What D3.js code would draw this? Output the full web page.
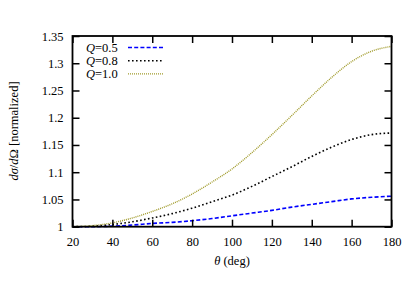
<!DOCTYPE html>
<html><head><meta charset="utf-8">
<script src="https://cdn.jsdelivr.net/npm/d3@7"></script>
<style>
html,body{margin:0;padding:0;background:#fff;}
</style></head>
<body>
<svg id="c" width="415" height="290" font-family="'Liberation Serif', 'Times New Roman', 'DejaVu Serif', serif" font-size="12"></svg>
<script>
const theta = [20,30,40,50,60,70,80,90,100,110,120,130,140,150,160,170,180];
const q05 = [1.000,1.000,1.001,1.003,1.006,1.008,1.011,1.015,1.020,1.025,1.030,1.036,1.041,1.046,1.051,1.054,1.056];
const q08 = [1.000,1.001,1.004,1.009,1.016,1.024,1.034,1.046,1.058,1.074,1.092,1.110,1.129,1.146,1.160,1.169,1.172];
const q10 = [1.000,1.002,1.007,1.016,1.028,1.042,1.060,1.082,1.106,1.136,1.169,1.204,1.240,1.274,1.303,1.322,1.331];
const seriesLabels = ["0.5","0.8","1.0"];
const xTicks = [20,40,60,80,100,120,140,160,180];
const yTicks = [1,1.05,1.1,1.15,1.2,1.25,1.3,1.35];

const FONT = "'Liberation Serif', 'Times New Roman', 'DejaVu Serif', serif";
const svg = d3.select("#c");
const L=72.5, R=391.5, T=36, B=226.7;
const x = d3.scaleLinear().domain([20,180]).range([L,R]);
const y = d3.scaleLinear().domain([1,1.35]).range([B,T]);
const fmt = d => String(+d.toFixed(2));

const series = [
  {vals:q05, color:"#0000ff", dash:"4,2.2", width:1.6, label:seriesLabels[0]},
  {vals:q08, color:"#000000", dash:"1.6,2.4", width:1.6, label:seriesLabels[1]},
  {vals:q10, color:"#a09a2a", dash:"1,1", width:1.4, label:seriesLabels[2]}
];

const line = d3.line().curve(d3.curveMonotoneX);
series.forEach(s=>{
  svg.append("path")
    .attr("d", line(theta.map((t,i)=>[x(t), y(s.vals[i])])))
    .attr("fill","none").attr("stroke",s.color)
    .attr("stroke-width",s.width).attr("stroke-dasharray",s.dash);
});

// axes
const tk = 7;
const axB = d3.axisBottom(x).tickValues(xTicks).tickSize(-tk).tickPadding(10);
const axT = d3.axisTop(x).tickValues(xTicks).tickSize(-tk).tickFormat("");
const axL = d3.axisLeft(y).tickValues(yTicks).tickSize(-tk).tickPadding(9).tickFormat(fmt);
const axR = d3.axisRight(y).tickValues(yTicks).tickSize(-tk).tickFormat("");
function style(g){
  g.attr("font-family",FONT).attr("font-size",12.5);
  g.selectAll(".domain").remove();
  g.selectAll("line").attr("stroke","#000").attr("stroke-width",1.5);
  g.selectAll("text").attr("fill","#000").style("font-family",FONT);
}
svg.append("g").attr("transform",`translate(0,${B})`).call(axB).call(style);
svg.append("g").attr("transform",`translate(0,${T})`).call(axT).call(style);
svg.append("g").attr("transform",`translate(${L},0)`).call(axL).call(style);
svg.append("g").attr("transform",`translate(${R},0)`).call(axR).call(style);
svg.append("rect").attr("x",L).attr("y",T).attr("width",R-L).attr("height",B-T)
  .attr("fill","none").attr("stroke","#000").attr("stroke-width",1.8);

// legend
series.forEach((s,i)=>{
  const ly = 47.5 + i*13.2;
  const t = svg.append("text").attr("x",86).attr("y",ly).attr("dy","0.33em")
    .attr("font-size",12.5).style("font-family",FONT);
  t.append("tspan").attr("font-style","italic").text("Q");
  t.append("tspan").text("="+s.label);
  svg.append("line").attr("x1",128).attr("x2",164).attr("y1",ly).attr("y2",ly)
    .attr("stroke",s.color).attr("stroke-width",s.width).attr("stroke-dasharray",s.dash);
});

// axis titles
svg.append("text").attr("x",232).attr("y",265).attr("text-anchor","middle")
  .attr("font-size",12.5).style("font-family",FONT)
  .html('<tspan font-style="italic">θ</tspan> (deg)');
svg.append("text").attr("transform","translate(18,131) rotate(-90)").attr("text-anchor","middle")
  .attr("font-size",12.5).style("font-family",FONT)
  .html('<tspan font-style="italic">dσ</tspan>/<tspan font-style="italic">d</tspan>Ω [normalized]');
</script>
</body></html>
